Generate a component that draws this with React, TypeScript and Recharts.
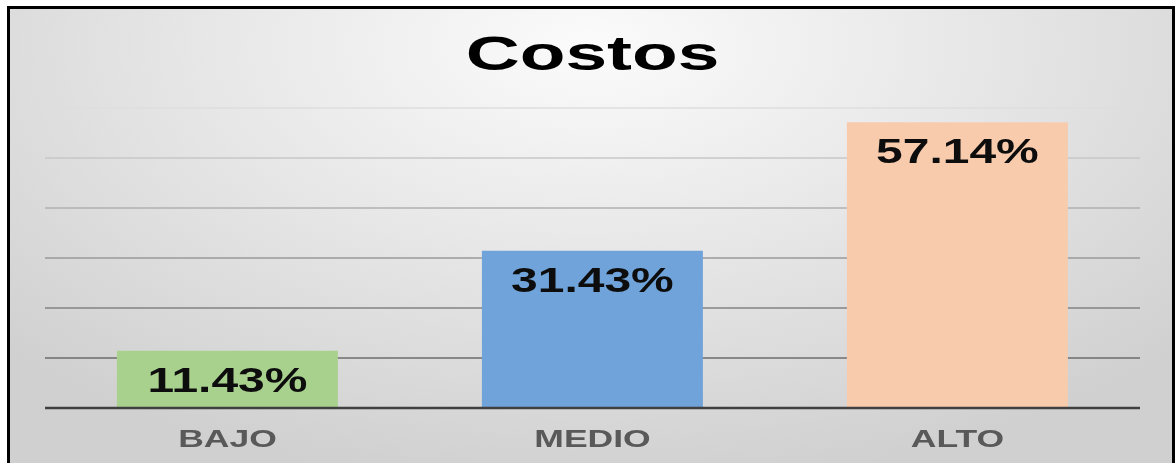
import { BarChart, Bar, XAxis, YAxis, CartesianGrid, Cell, LabelList } from 'recharts';

const categories = ['BAJO', 'MEDIO', 'ALTO'];
const percentages = [11.43, 31.43, 57.14];
const yTicks = [0, 10, 20, 30, 40, 50, 60];
const chartTitle = 'Costos';

const data = categories.map((nivel, i) => ({ nivel, valor: percentages[i] }));

const barColors = ['#a9d18e', '#6fa3da', '#f8cbad'];
const FONT = '"Liberation Sans", Arial, sans-serif';

function CategoryTick(props: any) {
  const { x, y, payload } = props;
  return (
    <text
      transform={`translate(${x},${y}) scale(1.48,1)`}
      textAnchor="middle"
      fontFamily={FONT}
      fontWeight="bold"
      fontSize={24}
      fill="#595959"
    >
      {payload.value}
    </text>
  );
}

function ValueLabel(props: any) {
  const { x, y, width, value } = props;
  return (
    <text
      transform={`translate(${x + width / 2},${y + 41}) scale(1.37,1)`}
      textAnchor="middle"
      fontFamily={FONT}
      fontWeight="bold"
      fontSize={35}
      fill="#0d0d0d"
    >
      {`${Number(value).toFixed(2)}%`}
    </text>
  );
}

export default function App() {
  return (
    <div style={{ position: 'fixed', left: 0, top: 0, width: 1175, height: 463, overflow: 'hidden' }}>
      <div
        style={{
          position: 'absolute',
          left: 7,
          top: 6,
          width: 1168,
          height: 470,
          boxSizing: 'border-box',
          border: '3px solid #000',
          background: 'radial-gradient(ellipse 70% 95% at 50% 8%, #fbfbfb 0%, #e8e8e8 45%, #d0d0d0 100%)',
        }}
      >
        <svg width={1162} height={90} style={{ position: 'absolute', left: 0, top: 0 }}>
          <text
            transform="translate(582.5,61) scale(1.56,1)"
            textAnchor="middle"
            fontFamily={FONT}
            fontWeight="bold"
            fontSize={48}
            fill="#000"
          >
            {chartTitle}
          </text>
        </svg>
        <BarChart
          width={1162}
          height={455}
          data={data}
          margin={{ top: 99, right: 32, bottom: 0, left: 35 }}
          barCategoryGap="19.7%"
        >
          <defs>
            <linearGradient id="gridFade" gradientUnits="userSpaceOnUse" x1="0" y1="99" x2="0" y2="399">
              <stop offset="0%" stopColor="#dedede" />
              <stop offset="100%" stopColor="#555555" />
            </linearGradient>
          </defs>
          <CartesianGrid vertical={false} stroke="url(#gridFade)" strokeWidth={1.5} />
          <YAxis hide domain={[0, 60]} ticks={yTicks} />
          <XAxis
            dataKey="nivel"
            height={56}
            axisLine={{ stroke: '#404040', strokeWidth: 2.5 }}
            tickLine={false}
            tickSize={0}
            tickMargin={39}
            tick={<CategoryTick />}
          />
          <Bar dataKey="valor" isAnimationActive={false}>
            {data.map((d, i) => (
              <Cell key={d.nivel} fill={barColors[i]} />
            ))}
            <LabelList dataKey="valor" content={<ValueLabel />} />
          </Bar>
        </BarChart>
      </div>
    </div>
  );
}
